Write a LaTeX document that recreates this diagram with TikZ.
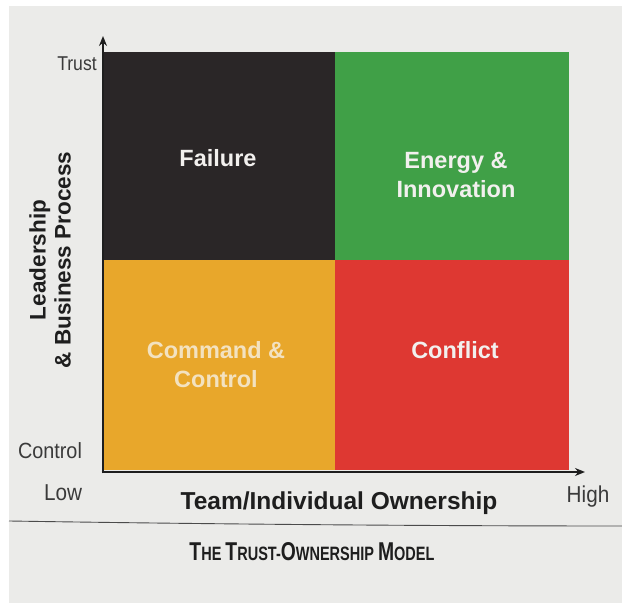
\documentclass[tikz,border=0pt]{standalone}
\usepackage{fontspec}
\setmainfont{Liberation Sans}
\usetikzlibrary{arrows.meta}
\definecolor{pagebg}{HTML}{EBEBE9}
\definecolor{qblack}{HTML}{2A2627}
\definecolor{qgreen}{HTML}{40A047}
\definecolor{qorange}{HTML}{E8A72B}
\definecolor{qred}{HTML}{DE3832}
\definecolor{lbl}{HTML}{F2F0EE}
\definecolor{lblorange}{HTML}{F3E2C0}
\definecolor{axistext}{HTML}{3A3A3A}
\definecolor{ink}{HTML}{1E1E1E}
\tikzset{
  quad/.style={rectangle, inner sep=0pt, outer sep=0pt, draw=none, anchor=north west},
  qlabel/.style={align=center, inner sep=0pt, font=\fontsize{23.5}{29}\selectfont\bfseries, text=lbl},
  axislbl/.style={inner sep=0pt, text=axistext},
  axisline/.style={line width=2.6pt, draw=ink, -{Stealth[length=10pt,width=8pt]}}
}
\begin{document}
\begin{tikzpicture}[x=1pt,y=1pt]
\useasboundingbox (0,0) rectangle (622,603);
\fill[white] (0,0) rectangle (622,603);
\fill[pagebg] (9,0) rectangle (622,597);
% quadrants
\node[quad, fill=qblack, minimum width=232pt, minimum height=208pt] (q1) at (103,551) {};
\node[quad, fill=qgreen, minimum width=234pt, minimum height=208pt] (q2) at (335,551) {};
\node[quad, fill=qorange, minimum width=232pt, minimum height=210pt] (q3) at (103,343) {};
\node[quad, fill=qred, minimum width=234pt, minimum height=210pt] (q4) at (335,343) {};
% quadrant labels
\node[qlabel] (failure) at (218,445) {Failure};
\node[qlabel] (energy) at (456,428) {Energy \&\\Innovation};
\node[qlabel, text=lblorange] (command) at (216,238) {Command \&\\Control};
\node[qlabel] (conflict) at (455,253) {Conflict};
% axes
\coordinate (o) at (103,131);
\coordinate (ytop) at (103,567);
\coordinate (xend) at (585,131);
\draw[axisline] ([yshift=-1.3pt]o) -- (ytop);
\draw[axisline] ([xshift=-1.3pt]o) -- (xend);
% axis labels
\node[axislbl] (trust) at (77,539) {\scalebox{0.88}[1]{\fontsize{20}{20}\selectfont Trust}};
\node[axislbl] (control) at (50,152) {\scalebox{0.9}[1]{\fontsize{22}{22}\selectfont Control}};
\node[axislbl] (low) at (63,110) {\scalebox{0.9}[1]{\fontsize{23}{23}\selectfont Low}};
\node[axislbl] (high) at (588,106) {\scalebox{0.9}[1]{\fontsize{23}{23}\selectfont High}};
\node[inner sep=0pt, text=ink, font=\fontsize{24.5}{24.5}\selectfont\bfseries] (xlabel) at (339,100) {Team/Individual Ownership};
\node[inner sep=0pt, text=ink, rotate=90, align=center, font=\fontsize{22.5}{25}\selectfont\bfseries] (ylabel) at (50,343) {Leadership\\\& Business Process};
% rule and title
\coordinate (rl) at (9,82);
\coordinate (rr) at (622,77);
\draw[line width=0.9pt, draw=ink!80] (rl) .. controls (200,79) and (420,77) .. (rr);
\node[inner sep=0pt, text=ink] (title) at (312,51) {\resizebox{245pt}{18pt}{\bfseries\fontsize{20}{20}\selectfont T\fontsize{15}{15}\selectfont HE \fontsize{20}{20}\selectfont T\fontsize{15}{15}\selectfont RUST-\fontsize{20}{20}\selectfont O\fontsize{15}{15}\selectfont WNERSHIP \fontsize{20}{20}\selectfont M\fontsize{15}{15}\selectfont ODEL}};
\end{tikzpicture}
\end{document}
